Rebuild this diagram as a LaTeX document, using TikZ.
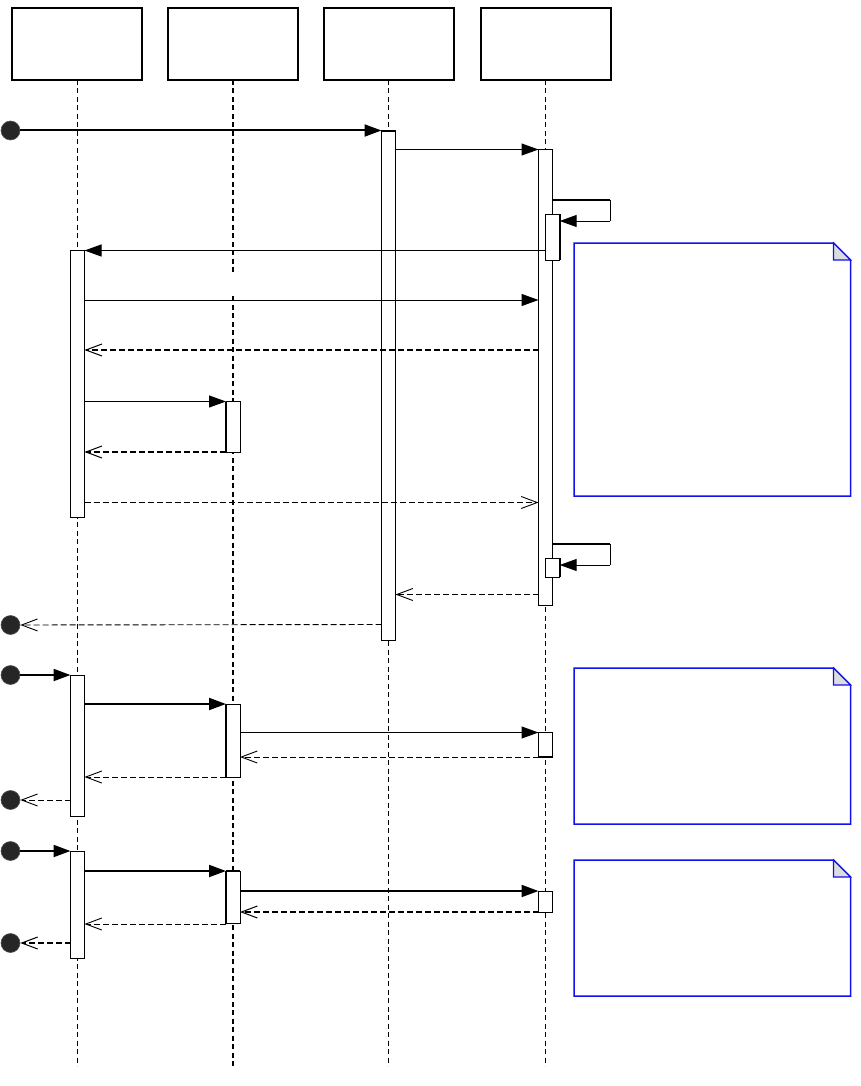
\documentclass[tikz,border=0pt]{standalone}
\usetikzlibrary{arrows.meta}
\definecolor{dot}{HTML}{262626}
\definecolor{fold}{HTML}{DCDCDC}
\definecolor{noteblue}{HTML}{1010F0}
\begin{document}
\begin{tikzpicture}[x=1pt,y=-1pt,
  head/.style={draw, line width=1.4pt, fill=white, minimum width=130pt, minimum height=72pt, inner sep=0pt, outer sep=0pt, anchor=north west},
  life/.style={line width=0.7pt, dash pattern=on 5pt off 3.5pt},
  lifethick/.style={line width=1.4pt, dash pattern=on 5pt off 3.5pt},
  act/.style={draw, line width=1pt, fill=white, inner sep=0pt, outer sep=0pt, minimum width=14pt, anchor=north},
  endpt/.style={circle, draw=dot!80, fill=dot, line width=0.6pt, minimum size=19pt, inner sep=0pt},
  call/.style={line width=1pt, -{Triangle[length=17pt,width=12pt]}},
  callthick/.style={line width=2pt, -{Triangle[length=17pt,width=12pt]}},
  ret/.style={line width=0.9pt, dash pattern=on 6pt off 3pt, -{Straight Barb[length=16pt,width=12pt]}},
  retthick/.style={line width=1.8pt, dash pattern=on 6pt off 3pt, -{Straight Barb[length=16pt,width=12pt,line width=1pt]}},
  selfmsg/.style={line width=1pt, -{Triangle[length=17pt,width=12pt]}},
  note/.style={draw=noteblue, line width=1.5pt, fill=white, line join=miter},
  foldc/.style={draw=noteblue, line width=1.2pt, fill=fold}
]
\useasboundingbox (0,0) rectangle (861,1086);

% headers
\node[head] (H1) at (12,8) {};
\node[head] (H2) at (168,8) {};
\node[head] (H3) at (324,8) {};
\node[head] (H4) at (481,8) {};

% lifelines
\coordinate (L1e) at (77.5,1066);
\coordinate (L2a) at (233,272);
\coordinate (L2b) at (233,296);
\coordinate (L2e) at (233,1066);
\coordinate (L3e) at (388.5,1066);
\coordinate (L4e) at (545.5,1066);
\draw[life] (H1.south -| L1e) -- (L1e);
\draw[lifethick] (H2.south -| L2a) -- (L2a);
\draw[lifethick] (L2b) -- (L2e);
\draw[life] (H3.south -| L3e) -- (L3e);
\draw[life] (H4.south -| L4e) -- (L4e);

% activations (first block)
\node[act, minimum height=509pt] (A3) at (388.5,131) {};
\node[act, minimum height=456pt] (A4) at (545.5,149.5) {};
\node[act, minimum height=46pt] (N1) at (552.7,214) {};
\node[act, minimum height=267pt] (A1) at (77.5,250.5) {};
\node[act, minimum height=50.5pt] (A2) at (233,401.5) {};
\node[act, minimum height=19pt] (N2) at (552.7,558) {};
% thick edges
\draw[line width=1.8pt] (A3.north west) -- (A3.north east);
\draw[line width=1.8pt] (N1.north east) -- (N1.south east);
\draw[line width=1.8pt] (A2.north west) -- (A2.south west);
\draw[line width=1.8pt] (A4.south west) -- (A4.south east);
\draw[line width=1.8pt] (A1.south west) -- (A1.south east);
\draw[line width=1.8pt] (N2.north east) -- (N2.south east);

% end points
\node[endpt] (S1) at (10.5,130.5) {};
\node[endpt] (E1) at (10.5,625) {};
\node[endpt] (S2) at (10.5,675) {};
\node[endpt] (E2) at (10.5,800) {};
\node[endpt] (S3) at (10.5,851) {};
\node[endpt] (E3) at (10.5,943) {};

% messages first block
\draw[callthick] (S1.east) -- (A3.west |- S1.east);
\draw[call] (A3.east |- 0,149.5) -- (A4.west |- 0,149.5);
\coordinate (T1a) at (610,200);
\coordinate (T1b) at (610,221);
\draw[line width=1pt] (A4.east |- T1a) -- (T1a) -- (T1b);
\draw[line width=2pt] (A4.east |- T1a) -- (T1a);
\draw[selfmsg] (T1b) -- (N1.east |- T1b);
\draw[call] (N1.west |- 0,250.5) -- (A1.east |- 0,250.5);
\draw[call] (A1.east |- 0,300) -- (A4.west |- 0,300);
\draw[retthick] (A4.west |- 0,350) -- (A1.east |- 0,350);
\draw[call] (A1.east |- 0,401.5) -- (A2.west |- 0,401.5);
\draw[retthick] (A2.west |- 0,452) -- (A1.east |- 0,452);
\draw[ret] (A1.east |- 0,502.5) -- (A4.west |- 0,502.5);
\coordinate (T2a) at (610,544);
\coordinate (T2b) at (610,565);
\draw[line width=1pt] (A4.east |- T2a) -- (T2a) -- (T2b);
\draw[line width=2pt] (A4.east |- T2a) -- (T2a);
\draw[selfmsg] (T2b) -- (N2.east |- T2b);
\draw[ret] (A4.west |- 0,594.5) -- (A3.east |- 0,594.5);
\draw[ret] (A3.west |- 0,624.5) -- (E1);

% second block
\node[act, minimum height=141pt] (B1) at (77.5,675) {};
\node[act, minimum height=73pt] (B2) at (233,704) {};
\node[act, minimum height=25pt] (B4) at (545.5,732) {};
\draw[line width=1.8pt] (B2.north west) -- (B2.south west);
\draw[line width=1.8pt] (B4.south west) -- (B4.south east);
\draw[callthick] (S2.east) -- (B1.west |- S2.east);
\draw[callthick] (B1.east |- 0,704) -- (B2.west |- 0,704);
\draw[call] (B2.east |- 0,732.5) -- (B4.west |- 0,732.5);
\draw[ret] (B4.west |- 0,757) -- (B2.east |- 0,757);
\draw[ret] (B2.west |- 0,777) -- (B1.east |- 0,777);
\draw[ret] (B1.west |- 0,800) -- (E2);

% third block
\node[act, minimum height=107pt] (C1) at (77.5,851) {};
\node[act, minimum height=52.5pt] (C2) at (233,871) {};
\node[act, minimum height=21pt] (C4) at (545.5,891) {};
\draw[line width=1.8pt] (C2.north west) -- (C2.south west);
\draw[line width=1.8pt] (C2.north west) -- (C2.north east);
\draw[callthick] (S3.east) -- (C1.west |- S3.east);
\draw[callthick] (C1.east |- 0,871) -- (C2.west |- 0,871);
\draw[callthick] (C2.east |- 0,891) -- (C4.west |- 0,891);
\draw[retthick] (C4.west |- 0,912) -- (C2.east |- 0,912);
\draw[ret] (C2.west |- 0,924) -- (C1.east |- 0,924);
\draw[retthick] (C1.west |- 0,943) -- (E3);

% notes
\draw[note] (574,243) -- (833.5,243) -- (850.5,260) -- (850.5,496) -- (574,496) -- cycle;
\draw[foldc] (833.5,243) -- (833.5,260) -- (850.5,260) -- cycle;
\draw[note] (574,668) -- (833.5,668) -- (850.5,685) -- (850.5,824) -- (574,824) -- cycle;
\draw[foldc] (833.5,668) -- (833.5,685) -- (850.5,685) -- cycle;
\draw[note] (574,860) -- (833.5,860) -- (850.5,877) -- (850.5,996) -- (574,996) -- cycle;
\draw[foldc] (833.5,860) -- (833.5,877) -- (850.5,877) -- cycle;
\end{tikzpicture}
\end{document}
